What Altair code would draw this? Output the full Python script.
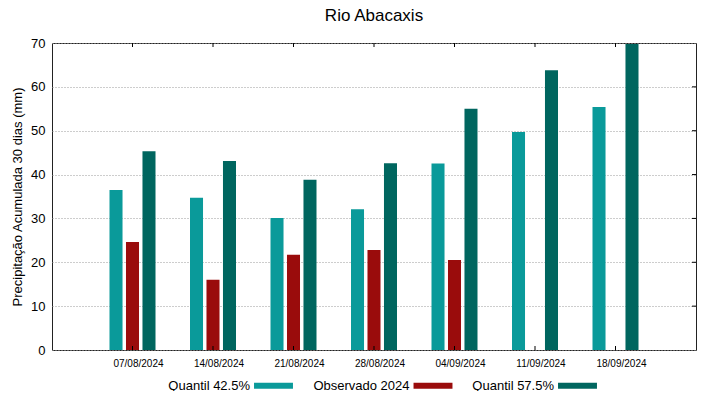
import altair as alt
import pandas as pd

dates = ["07/08/2024", "14/08/2024", "21/08/2024", "28/08/2024",
         "04/09/2024", "11/09/2024", "18/09/2024"]
series = ["Quantil 42.5%", "Observado 2024", "Quantil 57.5%"]
q425 = [36.5, 34.7, 30.1, 32.1, 42.5, 49.7, 55.4]
obs = [24.6, 16.0, 21.7, 22.8, 20.5, None, None]
q575 = [45.3, 43.1, 38.8, 42.6, 55.0, 63.8, 69.8]
colors = ["#0a9a9a", "#9a0c0c", "#00665f"]
yticks = [10, 20, 30, 40, 50, 60]

rows = []
for i, d in enumerate(dates):
    for s, vals in zip(series, [q425, obs, q575]):
        if vals[i] is not None:
            rows.append({"date": d, "serie": s, "valor": vals[i]})
df = pd.DataFrame(rows)
df_dates = pd.DataFrame({"date": dates})
df_y = pd.DataFrame({"v": yticks})

W, H = 644, 307
FONT = "Liberation Sans"

xscale = alt.Scale(domain=dates, paddingInner=0, paddingOuter=0.5)

bars = alt.Chart(df).mark_bar().encode(
    x=alt.X("date:N", scale=xscale, title=None,
            axis=alt.Axis(labelAngle=0, labelFontSize=10, labelOffset=6,
                          labelPadding=8, ticks=False, domain=False,
                          labelColor="black", labelFont=FONT)),
    xOffset=alt.XOffset("serie:N", sort=series,
                        scale=alt.Scale(paddingInner=0.21, paddingOuter=0,
                                        range=[17.25, 63.25])),
    y=alt.Y("valor:Q", scale=alt.Scale(domain=[0, 70], nice=False),
            title="Precipitação Acumulada 30 dias (mm)",
            axis=alt.Axis(values=list(range(0, 80, 10)), ticks=False, domain=False,
                          labelFontSize=13, labelPadding=7, labelColor="black",
                          labelFont=FONT, titleFont=FONT, titleFontSize=13,
                          titleFontWeight="normal", titleColor="black",
                          titlePadding=6, grid=True, gridDash=[1, 2],
                          gridColor="#9a9a9a", gridWidth=1)),
    color=alt.Color("serie:N", sort=series,
                    scale=alt.Scale(domain=series, range=colors),
                    legend=alt.Legend(title=None, orient="none", direction="horizontal",
                                      legendX=205, legendY=326,
                                      symbolType="M-1.18,-0.18H1.18V0.18H-1.18Z",
                                      symbolSize=1089, symbolStrokeWidth=0,
                                      symbolOpacity=1,
                                      labelFontSize=13,
                                      labelFont=FONT, labelColor="black",
                                      labelAlign="right", labelOffset={"expr": "-40"},
                                      columnPadding=19.5)),
)

top_ticks = alt.Chart(df_dates).mark_rule(color="#000", strokeWidth=1).encode(
    x=alt.X("date:N", scale=xscale), y=alt.value(0), y2=alt.value(4))
bot_ticks = alt.Chart(df_dates).mark_rule(color="#000", strokeWidth=1).encode(
    x=alt.X("date:N", scale=xscale), y=alt.value(H - 4), y2=alt.value(H))
right_ticks = alt.Chart(df_y).mark_rule(color="#000", strokeWidth=1).encode(
    y=alt.Y("v:Q", scale=alt.Scale(domain=[0, 70], nice=False)),
    x=alt.value(W - 4), x2=alt.value(W))

chart = alt.layer(bars, top_ticks, bot_ticks, right_ticks).properties(
    width=W, height=H,
    background="white",
    title=alt.Title("Rio Abacaxis", fontSize=17, font=FONT, fontWeight="normal",
                    color="black", anchor="middle", offset=12),
    autosize=alt.AutoSizeParams(type="none"),
    padding={"left": 44, "top": 35, "right": 15, "bottom": 41},
).configure_view(stroke="#222", strokeWidth=1)

chart.save("out.html", embed_options={"renderer": "svg", "actions": False})
